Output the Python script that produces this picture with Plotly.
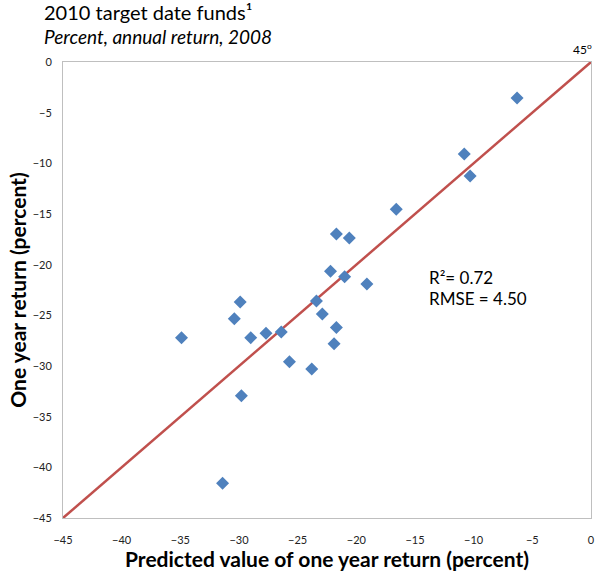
import plotly.graph_objects as go

# Predicted vs. actual 2008 one-year returns for 2010 target date funds (percent)
predicted = [-6.3, -10.8, -10.3, -16.6, -21.7, -20.6, -22.2, -21.0, -19.1,
             -29.9, -23.4, -30.4, -22.9, -21.7, -34.9, -29.0, -27.7, -26.4,
             -21.9, -25.7, -23.8, -29.8, -31.4]
actual = [-3.55, -9.08, -11.25, -14.54, -16.98, -17.37, -20.66, -21.19, -21.9,
          -23.69, -23.59, -25.34, -24.88, -26.19, -27.2, -27.2, -26.78, -26.65,
          -27.8, -29.59, -30.3, -32.94, -41.56]
line_ends = [-45, 0]
tick_vals = [-45, -40, -35, -30, -25, -20, -15, -10, -5, 0]

FONT = "Lato"

fig = go.Figure()
fig.add_trace(go.Scatter(
    x=line_ends, y=line_ends, mode="lines",
    line=dict(color="#C0504D", width=2.5), hoverinfo="skip"))
fig.add_trace(go.Scatter(
    x=predicted, y=actual, mode="markers",
    marker=dict(symbol="diamond", size=10, color="#4F81BD")))

axis_common = dict(
    range=[-45, 0], tickvals=tick_vals, showgrid=False, zeroline=False,
    showline=True, mirror=True, linecolor="#BFBFBF", linewidth=1,
    ticks="", automargin=False,
    tickfont=dict(family=FONT, size=11, color="#222"),
)
fig.update_xaxes(**axis_common, ticklabelstandoff=12,
                 title=dict(text="<b>Predicted value of one year return (percent)</b>",
                            font=dict(family=FONT, size=21, color="#000"), standoff=3))
fig.update_yaxes(**axis_common, ticklabelstandoff=8,
                 title=dict(text="<b>One year return (percent)</b>",
                            font=dict(family=FONT, size=21, color="#000"), standoff=0))

fig.add_annotation(x=0, xref="paper", xanchor="left", xshift=-21,
                   y=1, yref="paper", yanchor="middle", yshift=50,
                   text="2010 target date funds¹", showarrow=False,
                   font=dict(family=FONT, size=20, color="#000"))
fig.add_annotation(x=0, xref="paper", xanchor="left", xshift=-21,
                   y=1, yref="paper", yanchor="middle", yshift=26,
                   text="<i>Percent, annual return, 2008</i>", showarrow=False,
                   font=dict(family=FONT, size=19, color="#000"))
fig.add_annotation(x=0, y=0, xanchor="right", yanchor="bottom", yshift=3, xshift=3,
                   text="45<sup>o</sup>", showarrow=False,
                   font=dict(family=FONT, size=12, color="#000"))
fig.add_annotation(x=-14.0, y=-21.3, xanchor="left", yanchor="middle",
                   text="R²= 0.72", showarrow=False,
                   font=dict(family=FONT, size=17, color="#000"))
fig.add_annotation(x=-14.0, y=-23.3, xanchor="left", yanchor="middle",
                   text="RMSE = 4.50", showarrow=False,
                   font=dict(family=FONT, size=17, color="#000"))

fig.update_layout(
    width=596, height=571, showlegend=False,
    margin=dict(l=63, r=5, t=62, b=53),
    paper_bgcolor="white", plot_bgcolor="white",
)
fig.write_html("out.html")
